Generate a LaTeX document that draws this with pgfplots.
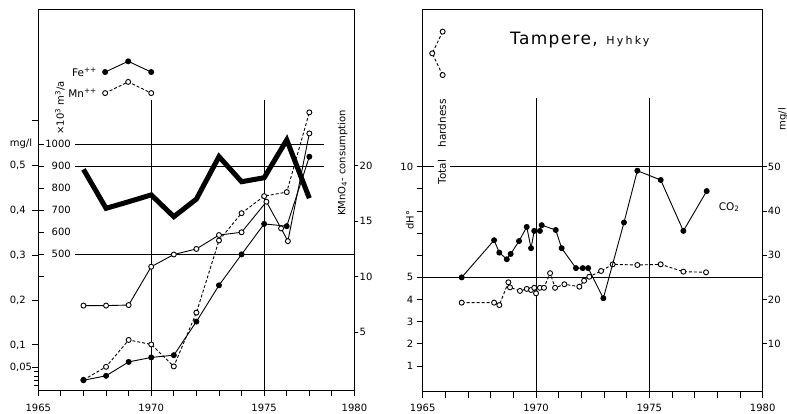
\documentclass[border=0pt]{standalone}
\usepackage{pgfplots}
\pgfplotsset{compat=1.18}
\usepackage{fontspec}
\setmainfont{DejaVu Sans}

\pgfplotsset{
  panel/.style={scale only axis, clip=false, xmin=1965,
    tick align=outside, major tick length=6pt, minor tick length=4pt,
    every tick/.style={black, line width=0.9pt},
    axis line style={line width=1pt},
    ticklabel style={font=\fontsize{10}{12}\selectfont},
    /pgf/number format/assume math mode=true},
  lbox/.style={panel, at={(38.3pt,23pt)}, anchor=south west,
    width=316.2pt, height=380pt, xmax=1979},
  rbox/.style={panel, at={(422.7pt,21.3pt)}, anchor=south west,
    width=340pt, height=382.4pt, xmax=1980},
  grid line/.style={black, line width=1pt},
  filled/.style={black, line width=0.9pt, mark=*, mark size=2.5pt,
    mark options={solid, fill=black}},
  open/.style={black, line width=0.9pt, mark=*, mark size=2.5pt,
    mark options={solid, fill=white}},
  dash/.style={dash pattern=on 3pt off 2pt},
}

\begin{document}
\begin{tikzpicture}
\path[use as bounding box] (0,0) rectangle (787pt,413pt);

% ---- left panel: amount of water, 10^3 m^3/a
\begin{axis}[lbox, ymin=-116.8, ymax=1610.5,
  axis x line=none, axis y line*=left, y axis line style={draw=none},
  tick align=inside,
  ytick={400,500,...,1000}, yticklabels={,500,600,700,800,900,1000},
  yticklabel style={anchor=east, xshift=36pt}]
\addplot[grid line] coordinates {(1966.63,1000) (1977.67,1000)};
\addplot[grid line] coordinates {(1966.63,900) (1977.67,900)};
\addplot[grid line] coordinates {(1966.63,500) (1979,500)};
\addplot[black, line width=5pt, line join=miter] table {
1967 886
1968 709
1969 739
1970 770
1971 671
1972 751
1973 944
1974 830
1975 848
1976 1020
1977 755
};
\end{axis}

% ---- left panel: Fe and Mn, mg/l
\begin{axis}[lbox, ymin=-0.0007, ymax=0.8475,
  xtick={1965,...,1979}, xticklabels={1965,,,,,1970,,,,,1975,,,,1980},
  xtick pos=bottom, xticklabel style={yshift=-5pt},
  ytick={0.05,0.1,0.2,0.3,0.4,0.5,0.6},
  yticklabels={{0,05},{0,1},{0,2},{0,3},{0,4},{0,5},{}},
  minor ytick={0.01,0.02,0.03,0.04}, ytick pos=left,
  yticklabel style={anchor=west, xshift=-26pt}]
\addplot[grid line] coordinates {(1970,-0.0007) (1970,0.6467)};
\addplot[grid line] coordinates {(1975,-0.0007) (1975,0.6467)};
% Mn++
\addplot[open, dash] table {
1967 0.022
1968 0.051
1969 0.111
1970 0.101
1971 0.052
1972 0.172
1973 0.333
1974 0.394
1975 0.432
1976 0.441
1977 0.619
};
% Fe++
\addplot[filled] table {
1967 0.021
1968 0.031
1969 0.062
1970 0.072
1971 0.077
1972 0.152
1973 0.233
1974 0.302
1975 0.370
1976 0.365
1977 0.520
};
% key
\addplot[filled] coordinates {(1967.96,0.709) (1968.98,0.733) (1970,0.709)};
\addplot[open, dash] coordinates {(1967.96,0.662) (1968.98,0.687) (1970,0.662)};
\node[anchor=east, font=\fontsize{10.5}{12}\selectfont] at (axis cs:1967.75,0.709) {Fe\textsuperscript{++}};
\node[anchor=east, font=\fontsize{10.5}{12}\selectfont] at (axis cs:1967.75,0.662) {Mn\textsuperscript{++}};
\node[font=\fontsize{10}{12}\selectfont] at (axis cs:1964.23,0.548) {mg/l};
\node[rotate=90, font=\fontsize{10}{12}\selectfont] at (axis cs:1965.96,0.629) {×10\textsuperscript{3} m\textsuperscript{3}/a};
\node[rotate=90, font=\fontsize{10}{12}\selectfont] at (axis cs:1978.47,0.506) {KMnO\textsubscript{4}- consumption};
\end{axis}

% ---- left panel: KMnO4 consumption
\begin{axis}[lbox, ymin=-0.198, ymax=34.01,
  axis x line=none, axis y line*=right, ytick={5,10,15,20},
  major tick length=4pt, yticklabel style={inner sep=1pt}]
\addplot[open] table {
1967 7.4
1968 7.4
1969 7.45
1970 10.9
1971 12.0
1972 12.5
1973 13.75
1974 14.0
1975.1 16.75
1975.75 14.35
1976.05 13.2
1977 22.9
};
\end{axis}

% ---- right panel: total hardness, dH
\begin{axis}[rbox, ymin=-0.163, ymax=17.11,
  xtick={1965,...,1980}, xticklabels={1965,,,,,1970,,,,,1975,,,,,1980},
  xtick pos=bottom, xticklabel style={yshift=-3.3pt},
  ytick={1,...,10}, yticklabels={1,2,3,4,5,,,,,10}, ytick pos=left]
\addplot[grid line] coordinates {(1965,10) (1980,10)};
\addplot[grid line] coordinates {(1965,5) (1980,5)};
\addplot[grid line] coordinates {(1970,-0.163) (1970,13.1)};
\addplot[grid line] coordinates {(1975,-0.163) (1975,13.1)};
\addplot[open, dash] table {
1966.72 3.86
1968.15 3.86
1968.38 3.75
1968.78 4.78
1968.85 4.55
1969.29 4.39
1969.59 4.48
1969.78 4.43
1969.92 4.53
1970.0 4.28
1970.17 4.53
1970.35 4.53
1970.62 5.19
1970.84 4.53
1971.25 4.69
1971.91 4.58
1972.12 4.85
1972.35 5.03
1972.87 5.29
1973.38 5.59
1974.47 5.56
1975.50 5.59
1976.50 5.26
1977.50 5.23
};
\addplot[open, dash] coordinates {(1965.88,16.10) (1965.42,15.12) (1965.88,14.14)};
\node[rotate=90, fill=white, inner sep=4pt, font=\fontsize{10.5}{12}\selectfont] at (axis cs:1965.85,11.12) {Total\hspace{1.2em}hardness};
\node[anchor=base west, font=\fontsize{17}{19}\selectfont\addfontfeatures{LetterSpace=8}] at (axis cs:1968.7,15.5) {Tampere,};
\node[anchor=base west, font=\fontsize{11}{13}\selectfont\addfontfeatures{LetterSpace=20}] at (axis cs:1972.95,15.5) {Hyhky};
\node[font=\fontsize{10.5}{12}\selectfont] at (axis cs:1978.52,8.18) {CO\textsubscript{2}};
\node[rotate=90, font=\fontsize{10}{12}\selectfont] at (axis cs:1964.44,7.59) {dH°};
\node[rotate=90, font=\fontsize{10}{12}\selectfont] at (axis cs:1980.89,12.15) {mg/l};
\end{axis}

% ---- right panel: CO2, mg/l
\begin{axis}[rbox, ymin=-0.815, ymax=85.55,
  axis x line=none, axis y line*=right, ytick={10,20,...,50},
  major tick length=4pt, yticklabel style={inner sep=1pt}]
\addplot[filled] table {
1966.72 25.0
1968.15 33.4
1968.38 30.6
1968.71 29.1
1968.88 30.3
1969.25 33.2
1969.59 36.4
1969.78 31.6
1969.92 35.5
1970.17 35.5
1970.25 36.8
1970.87 35.7
1971.13 31.6
1971.76 27.1
1972.06 27.1
1972.30 27.1
1972.97 20.3
1973.88 37.4
1974.47 49.1
1975.50 47.0
1976.50 35.5
1977.53 44.5
};
\end{axis}
\end{tikzpicture}
\end{document}
